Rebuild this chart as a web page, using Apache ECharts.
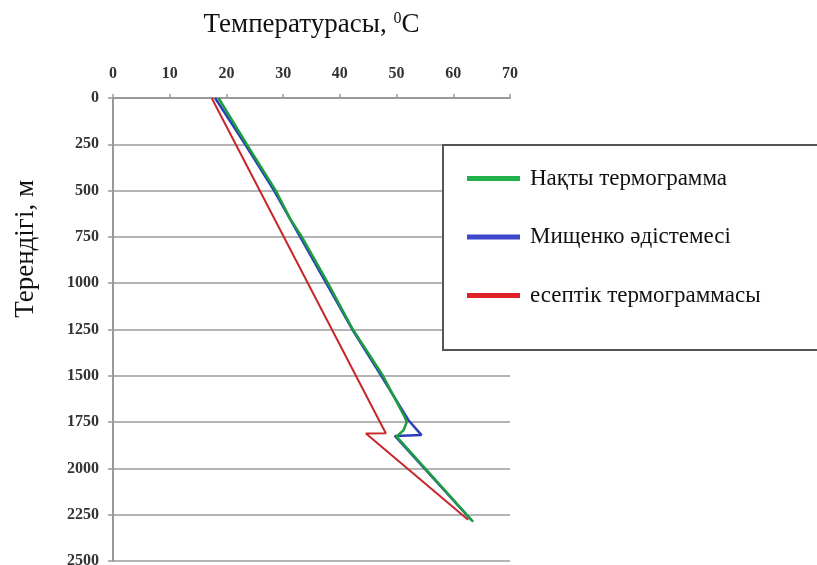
<!DOCTYPE html>
<html>
<head>
<meta charset="utf-8">
<script src="https://cdn.jsdelivr.net/npm/echarts@6/dist/echarts.min.js"></script>
<style>
  html, body { margin: 0; padding: 0; background: #fff; }
  #main { width: 817px; height: 565px; }
</style>
</head>
<body>
<div id="main"></div>
<script>
// температура (°C) және тереңдік (м) мәндері
var seriesNames = ['Нақты термограмма', 'Мищенко әдістемесі', 'есептік термограммасы'];

var greenDepth = [0, 250, 500, 650, 750, 1000, 1250, 1500, 1720, 1750, 1795, 1828, 2288];
var greenTemp  = [18.6, 23.6, 28.7, 31.2, 33.3, 37.9, 42.3, 47.6, 51.4, 51.8, 51.2, 50.0, 63.5];

var blueDepth = [0, 250, 500, 750, 1000, 1250, 1500, 1740, 1820, 1825, 2280];
var blueTemp  = [18.0, 23.3, 28.4, 33.0, 37.6, 42.2, 47.3, 52.1, 54.4, 49.7, 63.2];

var redDepth = [0, 1810, 1812, 2277];
var redTemp  = [17.4, 48.1, 44.6, 62.6];

var tempTicks = [0, 70, 10];     // min, max, interval
var depthTicks = [0, 2500, 250];

function pairs(t, d) {
    var out = [];
    for (var i = 0; i < t.length; i++) out.push([t[i], d[i]]);
    return out;
}

var myChart = echarts.init(document.getElementById('main'));
var serif = 'Liberation Serif';

myChart.setOption({
    animation: false,
    backgroundColor: '#fff',
    grid: { left: 113, top: 98, right: 307, bottom: 4, containLabel: false, outerBoundsMode: 'none' },
    xAxis: {
        type: 'value',
        position: 'top',
        min: tempTicks[0], max: tempTicks[1], interval: tempTicks[2],
        name: 'Температурасы, {sup|0}C',
        nameLocation: 'middle',
        nameGap: 59,
        nameTextStyle: {
            fontFamily: serif, fontSize: 27, color: '#111',
            rich: { sup: { fontFamily: serif, fontSize: 16, color: '#111', padding: [0, 0, 12, 0] } }
        },
        axisLine: { show: true, lineStyle: { color: '#999', width: 2 } },
        axisTick: { show: true, length: 4, lineStyle: { color: '#999', width: 1.5 } },
        axisLabel: { margin: 16, fontFamily: serif, fontSize: 16, fontWeight: 'bold', color: '#333' },
        splitLine: { show: false }
    },
    yAxis: {
        type: 'value',
        inverse: true,
        min: depthTicks[0], max: depthTicks[1], interval: depthTicks[2],
        axisLine: { show: true, lineStyle: { color: '#999', width: 2 } },
        axisTick: { show: true, length: 5, lineStyle: { color: '#999', width: 1.5 } },
        axisLabel: {
            margin: 14, fontFamily: serif, fontSize: 16, fontWeight: 'bold', color: '#333',
            formatter: function (v) { return String(v); }
        },
        splitLine: { show: true, lineStyle: { color: '#b4b4b4', width: 2 } }
    },
    legend: {
        data: seriesNames,
        orient: 'vertical',
        left: 443, top: 145,
        padding: [22, 80, 43, 24],
        itemGap: 35.5,
        itemWidth: 53, itemHeight: 5,
        icon: 'rect',
        backgroundColor: '#fff',
        borderColor: '#555', borderWidth: 2,
        textStyle: { fontFamily: serif, fontSize: 23, color: '#111', padding: [0, 0, 0, 5] }
    },
    graphic: [{
        type: 'text',
        left: 12, top: 180,
        rotation: Math.PI / 2,
        style: { text: 'Терендігі, м', font: '27px "Liberation Serif"', fill: '#111' }
    }],
    series: [
        {
            name: seriesNames[2], type: 'line', showSymbol: false, z: 2,
            color: '#e02026',
            lineStyle: { color: '#c8262b', width: 2 },
            data: pairs(redTemp, redDepth)
        },
        {
            name: seriesNames[1], type: 'line', showSymbol: false, z: 3,
            color: '#3f48cc',
            lineStyle: { color: '#2c3fb8', width: 2.5 },
            data: pairs(blueTemp, blueDepth)
        },
        {
            name: seriesNames[0], type: 'line', showSymbol: false, z: 4,
            color: '#22b14c',
            lineStyle: { color: '#1c9e3c', width: 2.5 },
            data: pairs(greenTemp, greenDepth)
        }
    ]
});
</script>
</body>
</html>
